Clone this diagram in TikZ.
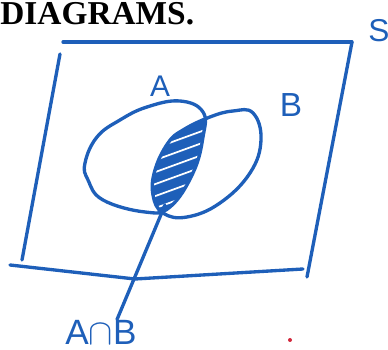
\documentclass[tikz,border=0pt]{standalone}
\usepackage{fontspec}
\setmainfont{Liberation Serif}
\newfontfamily\handfont{Liberation Sans}
\usetikzlibrary{positioning,calc}
\definecolor{pen}{RGB}{30,95,185}
\definecolor{speck}{RGB}{210,40,60}
\tikzset{
  stroke/.style={draw=pen,line width=1.9pt,line cap=round,line join=round},
  hand/.style={text=pen,font=\handfont\fontsize{#1}{#1}\selectfont,inner sep=0pt},
  hand/.default=17,
  title/.style={font=\bfseries\fontsize{19}{19}\selectfont,inner sep=0pt,anchor=north west},
}
\def\setA{plot[smooth cycle,tension=0.7] coordinates{(85,163) (97,137) (120,120) (147,107)
  (180,101) (203,112) (203,137) (193,173) (170,207) (145,212) (103,200) (88,180)}}
\def\setB{plot[smooth cycle,tension=0.7] coordinates{(183,130) (210,117) (233,111) (253,113)
  (261,140) (250,173) (220,203) (187,217) (163,213) (153,195) (155,170) (168,143)}}
\begin{document}
\begin{tikzpicture}[x=0.02cm,y=-0.02cm]
  \useasboundingbox (0,0) rectangle (388,350);
  \node[title] (head) at (0,2) {DIAGRAMS.};
  % universal set
  \draw[stroke] (63,42) -- (352,42);
  \draw[stroke] (60,54) -- (22,260);
  \draw[stroke] (10,265) -- (135,279) -- (303,269);
  \draw[stroke] (352,42) -- (307,277);
  \node[hand=18] (s) at (379,31) {S};
  % shaded part
  \begin{scope}
    \clip \setA;
    \fill[pen] \setB;
    \foreach \y in {140,152,...,200}
      \draw[white,line width=1pt] (150,\y+10) -- (205,\y-10);
  \end{scope}
  % sets
  \draw[stroke] \setA;
  \draw[stroke] \setB;
  \node[hand] (a) at (160,86) {A};
  \node[hand=19] (b) at (291,105) {B};
  % pointer
  \coordinate (cap) at (165,205);
  \node[hand=20] (ab) at (101,332) {A$\cap$B};
  \draw[stroke] (cap) -- (ab.north -| 117,0);
  \fill[speck] (290,340) circle (2);
\end{tikzpicture}
\end{document}
